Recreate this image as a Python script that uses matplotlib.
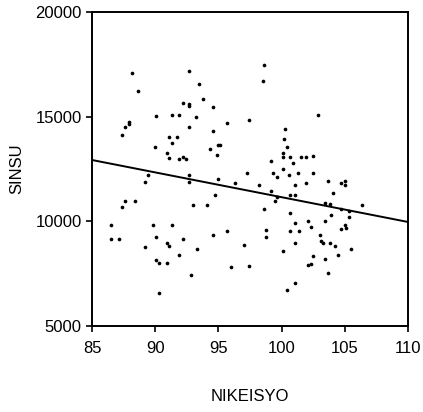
import matplotlib
matplotlib.use('Agg')
from matplotlib import pyplot as plt

plt.rcParams['font.family'] = ['Liberation Sans', 'DejaVu Sans']

# NIKEISYO / SINSU points
nikeisyo = [88.2, 92.7, 88.6, 93.5, 93.8, 92.2, 92.7, 92.7, 94.6, 90.1,
            91.3, 91.9, 93.2, 97.4, 87.9, 87.9, 87.6, 95.7, 92.7, 94.6,
            87.4, 91.1, 91.7, 91.3, 95.0, 95.1, 98.6, 98.5, 102.9, 100.3,
            100.2, 90.0, 90.9, 91.1, 91.9, 92.2, 92.4, 94.3, 94.9, 89.4,
            89.2, 92.7, 92.7, 95.0, 96.3, 97.3, 94.7, 87.6, 88.4, 87.4,
            93.0, 94.1, 86.5, 89.8, 91.3, 95.7, 100.4, 100.1, 100.1, 100.7,
            101.5, 101.9, 102.5, 99.2, 100.9, 99.3, 99.6, 100.1, 100.6, 101.3,
            102.5, 98.2, 101.1, 101.9, 103.7, 104.7, 105.0, 105.0, 99.2, 100.7,
            101.1, 99.6, 99.5, 104.1, 103.4, 103.8, 98.6, 104.7, 105.3, 106.4,
            100.7, 105.3, 103.9, 101.1, 102.1, 103.4, 105.0, 102.3, 98.8, 100.7,
            101.4, 104.7, 105.1, 86.5, 87.1, 90.1, 89.2, 90.9, 91.1, 92.2,
            94.6, 93.3, 91.9, 97.0, 90.1, 90.3, 90.9, 92.8, 96.0, 97.4,
            90.3, 98.8, 103.0, 101.1, 103.1, 103.3, 103.8, 104.2, 105.5, 100.1,
            104.5, 102.5, 103.4, 102.1, 102.3, 103.7, 101.1, 100.4]
sinsu = [17090, 17180, 16230, 16560, 15840, 15650, 15610, 15510, 15460, 15030,
         15080, 15080, 14980, 14840, 14750, 14650, 14510, 14700, 14510, 14320,
         14120, 14030, 14030, 13740, 13650, 13650, 17470, 16700, 15080, 14410,
         13930, 13550, 13260, 13030, 12980, 13070, 12980, 13460, 13170, 12210,
         11880, 12210, 11880, 12020, 11830, 12310, 11260, 10970, 10970, 10690,
         10780, 10780, 9830, 9830, 9830, 9540, 13550, 13260, 13070, 13070,
         13070, 13070, 13120, 12880, 12790, 12310, 12120, 12500, 12210, 12310,
         12310, 11740, 11740, 11830, 11930, 11830, 11930, 11740, 11450, 11260,
         11260, 11160, 10970, 11350, 10880, 10830, 10590, 10590, 10490, 10780,
         10400, 10210, 10300, 9920, 10020, 10020, 9830, 9730, 9590, 9540,
         9540, 9630, 9680, 9160, 9160, 9250, 8770, 8970, 8820, 9160,
         9350, 8680, 8390, 8870, 8150, 8010, 8010, 7440, 7820, 7870,
         6580, 9250, 9350, 8970, 9060, 8970, 8970, 8820, 8680, 8580,
         8390, 8340, 8200, 7910, 7960, 7530, 7050, 6720]

# fitted line, end values read at the axis limits
fit_x = [85, 110]
fit_y = [12930, 9970]

x_ticks = [85, 90, 95, 100, 105, 110]
y_ticks = [5000, 10000, 15000, 20000]

fig = plt.figure(figsize=(4.23, 4.12), dpi=100)
ax = fig.add_axes([0.2175, 0.2087, 0.7470, 0.7622])

ax.scatter(nikeisyo, sinsu, s=7, color='black', linewidths=0, zorder=3)
ax.plot(fit_x, fit_y, color='black', lw=1.4, zorder=2)

ax.set_xlim(85, 110)
ax.set_ylim(5000, 20000)
ax.set_xticks(x_ticks)
ax.set_yticks(y_ticks)
for s in ax.spines.values():
    s.set_linewidth(1.4)
ax.tick_params(axis='x', length=4.5, width=1.2, pad=6, labelsize=12)
ax.tick_params(axis='y', length=4.5, width=1.2, pad=3, labelsize=12)

ax.set_xlabel('NIKEISYO', fontsize=12, labelpad=24)
ax.set_ylabel('SINSU', fontsize=12, labelpad=8)

fig.savefig('out.png', dpi=100)
